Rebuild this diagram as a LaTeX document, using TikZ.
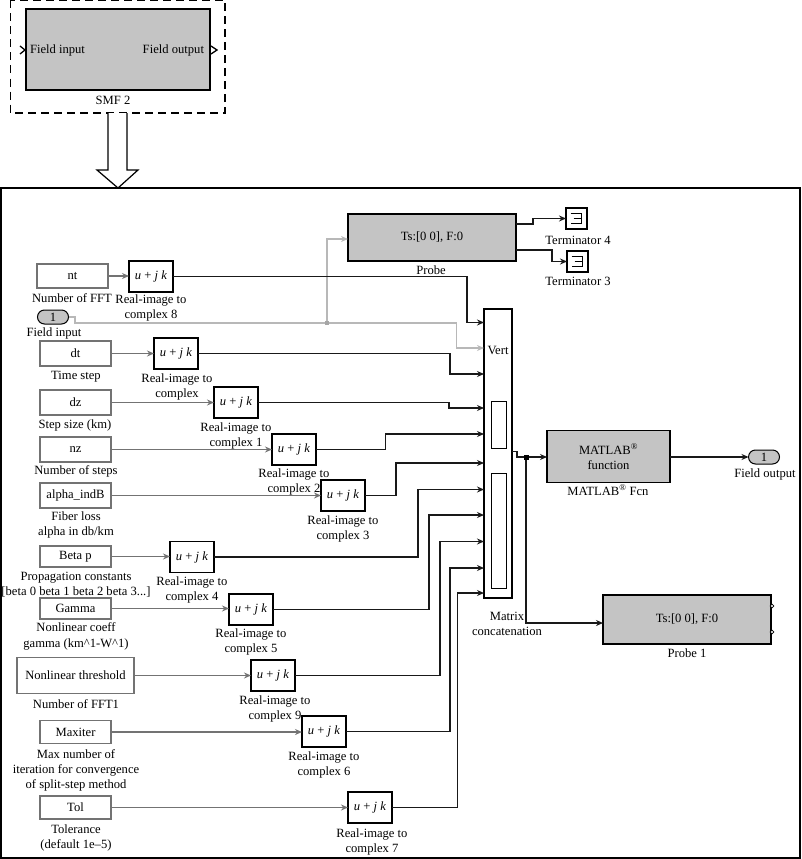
\documentclass[tikz,border=0pt]{standalone}
\usepackage{fontspec}
\setmainfont{Liberation Serif}
\usetikzlibrary{arrows.meta,shapes.misc}
\definecolor{blockgray}{gray}{0.77}
\tikzset{
  every node/.style={font=\fontsize{12.6}{14}\selectfont, inner sep=0pt, outer sep=0pt},
  lbl/.style={align=center, text height=8.5pt, text depth=0pt},
  constbox/.style={draw=black!55, line width=1.3pt, fill=white, minimum width=71pt, minimum height=25pt},
  rib/.style={draw=black, line width=1.3pt, fill=white, minimum width=44pt, minimum height=31pt},
  sysblock/.style={draw=black, line width=1.3pt, fill=blockgray},
  portbox/.style={draw=black, line width=1pt, fill=blockgray, rounded rectangle, minimum width=31pt, minimum height=14pt},
  wire/.style={draw=black!90, line width=1.2pt, -{Stealth[length=7pt,width=6pt]}},
  thin wire/.style={draw=black!55, line width=1.2pt, -{Stealth[length=7pt,width=6pt]}},
  sig wire/.style={draw=black!28, line width=1.2pt, -{Stealth[length=7pt,width=6pt]}},
  termbox/.style={draw=black, line width=1.2pt, fill=white, minimum width=21pt, minimum height=21pt},
}
\newcommand{\ujk}{\textit{u} + \textit{j k}}
\begin{document}
\begin{tikzpicture}[x=1pt,y=-1pt]
\useasboundingbox (0,0) rectangle (801,859);

% upper subsystem and expansion arrow
\draw[line width=1.4pt, dash pattern=on 8pt off 5pt] (10.5,0.5) rectangle (225,113);
\node[sysblock, minimum width=184pt, minimum height=81pt] (smf) at (118,49.5) {};
\node[anchor=west, lbl] (fin) at (30,49.5) {Field input};
\node[anchor=east, lbl] (fout) at (204,49.5) {Field output};
\node[lbl] (smfl) at (113,100) {SMF 2};
\draw[line width=1.3pt] (20,46) -- (25,50) -- (20,54);
\draw[line width=1.3pt] (211,46) -- (217,50) -- (211,54);
\draw[line width=1.2pt, fill=white] (108,113) -- (108,170) -- (97,170) -- (118,188) -- (138,170) -- (127,170) -- (127,113);

% frame of the expanded subsystem
\draw[line width=1.2pt] (1,188) rectangle (800,858);

% constants
\node[constbox, minimum height=24pt] (nt) at (72.5,276) {nt};
\node[constbox] (dt) at (75.5,353.5) {dt};
\node[constbox] (dz) at (75.5,402.5) {dz};
\node[constbox] (nz) at (75.5,449.5) {nz};
\node[constbox] (alpha) at (75.5,495.5) {alpha\_indB};
\node[constbox, minimum height=21pt] (beta) at (75.5,556.5) {Beta p};
\node[constbox, minimum height=21pt] (gamma) at (75.5,608.5) {Gamma};
\node[constbox, minimum width=117pt, minimum height=36pt] (nlt) at (75.5,675.5) {Nonlinear threshold};
\node[constbox, minimum height=23pt] (maxit) at (75.5,732) {Maxiter};
\node[constbox, minimum height=23pt] (tol) at (75.5,807.5) {Tol};

% constant captions
\node[lbl] at (72,298) {Number of FFT};
\node[lbl] at (76,375) {Time step};
\node[lbl] at (75,424) {Step size (km)};
\node[lbl] at (76,470) {Number of steps};
\node[lbl] at (76,516) {Fiber loss};
\node[lbl] at (76,531) {alpha in db/km};
\node[lbl] at (76,576) {Propagation constants};
\node[lbl] at (76,591) {[beta 0 beta 1 beta 2 beta 3...]};
\node[lbl] at (76,627) {Nonlinear coeff};
\node[lbl] at (76,643) {gamma (km\textasciicircum 1-W\textasciicircum 1)};
\node[lbl] at (76,704) {Number of FFT1};
\node[lbl] at (76,754) {Max number of};
\node[lbl] at (76,769) {iteration for convergence};
\node[lbl] at (76,784) {of split-step method};
\node[lbl] at (76,829) {Tolerance};
\node[lbl] at (76,844) {(default 1e–5)};

% real-image to complex blocks
\node[rib] (r8) at (151,276.5) {\ujk};
\node[rib] (r0) at (176,353.5) {\ujk};
\node[rib] (r1) at (236,402.5) {\ujk};
\node[rib] (r2) at (294,449.5) {\ujk};
\node[rib] (r3) at (343,495.5) {\ujk};
\node[rib] (r4) at (192,557) {\ujk};
\node[rib] (r5) at (251,609.5) {\ujk};
\node[rib] (r9) at (273,675.5) {\ujk};
\node[rib] (r6) at (324,731.5) {\ujk};
\node[rib] (r7) at (370,807.5) {\ujk};

\node[lbl] at (151,299) {Real-image to};
\node[lbl] at (151,314) {complex 8};
\node[lbl] at (177,378) {Real-image to};
\node[lbl] at (177,393) {complex};
\node[lbl] at (236,427) {Real-image to};
\node[lbl] at (236,442) {complex 1};
\node[lbl] at (294,473) {Real-image to};
\node[lbl] at (294,488) {complex 2};
\node[lbl] at (343,520) {Real-image to};
\node[lbl] at (343,535) {complex 3};
\node[lbl] at (192,581) {Real-image to};
\node[lbl] at (192,596) {complex 4};
\node[lbl] at (251,633) {Real-image to};
\node[lbl] at (251,648) {complex 5};
\node[lbl] at (275,700) {Real-image to};
\node[lbl] at (275,715) {complex 9};
\node[lbl] at (324,756) {Real-image to};
\node[lbl] at (324,771) {complex 6};
\node[lbl] at (372,833) {Real-image to};
\node[lbl] at (372,848) {complex 7};

% constant to block wires
\foreach \a/\b in {nt/r8,dt/r0,dz/r1,nz/r2,alpha/r3,beta/r4,gamma/r5,nlt/r9,maxit/r6,tol/r7}
  \draw[thin wire] (\a.east) -- (\a.east -| \b.west);

% input port
\node[portbox] (pin) at (53,317) {1};
\node[lbl] at (54,332) {Field input};

% concatenation block
\node[draw=black, line width=1.1pt, fill=white, minimum width=28pt, minimum height=289pt] (mux) at (498,453.5) {};
\node[lbl] (vert) at (498,350) {Vert};
\node[draw=black, line width=1pt, minimum width=15pt, minimum height=47pt] (inA) at (498.5,424.5) {};
\node[draw=black, line width=1pt, minimum width=15pt, minimum height=115pt] (inB) at (498.5,530.5) {};
\node[lbl] at (507,616) {Matrix};
\node[lbl] at (507,631) {concatenation};

% probes and terminators
\node[sysblock, minimum width=168pt, minimum height=47pt] (probe) at (432,237.5) {Ts:[0 0], F:0};
\node[lbl] at (431,270) {Probe};
\node[termbox] (t4) at (576.5,218.5) {};
\node[termbox] (t3) at (577.5,261.5) {};
\foreach \t in {t4,t3}
  \draw[line width=1pt] ([shift={(-6,-5)}]\t.center) -- ([shift={(5,-5)}]\t.center) -- ([shift={(5,5)}]\t.center) -- ([shift={(-6,5)}]\t.center)
    ([shift={(-3,0)}]\t.center) -- ([shift={(5,0)}]\t.center);
\node[lbl] at (578,240) {Terminator 4};
\node[lbl] at (578,281) {Terminator 3};
\coordinate (pa) at (516,224);
\coordinate (pb) at (516,250);
\draw[wire] (pa) -- (533,224) -- (533,218.5) -- (t4.west);
\draw[wire] (pb) -- (552,250) -- (552,261.5) -- (t3.west);

% MATLAB function and outputs
\node[sysblock, minimum width=123pt, minimum height=52pt, align=center] (fcn) at (608.5,456.5) {MATLAB\textsuperscript{®}\\[1pt]function};
\node[lbl] at (608,491) {MATLAB\textsuperscript{®} Fcn};
\node[portbox] (pout) at (764,457) {1};
\node[lbl] at (765,473) {Field output};
\node[sysblock, minimum width=168pt, minimum height=49pt] (probeb) at (687,619.5) {Ts:[0 0], F:0};
\node[lbl] at (687,653) {Probe 1};
\draw[line width=0.7pt, fill=white] (772,606) circle (1.8pt) (772,632) circle (1.8pt);
\draw[wire] (fcn.east |- pout) -- (pout.west);

% field input signal and its branch to the probe
\coordinate (sj) at (327,323);
\coordinate (pinend) at (75,317);
\draw[sig wire] (pin.east) -- (pinend) -- (75,323) -- (456.5,323) -- (456.5,348) -- (484,348);
\draw[sig wire] (sj) -- (327,239) -- (348,239);
\fill[black!35] ([shift={(-2,-2)}]sj) rectangle ([shift={(2,2)}]sj);

% complex signals into the concatenation block
\draw[wire] (r8.east) -- (467,276.5) -- (467,322.5) -- (484,322.5);
\draw[wire] (r0.east) -- (450,353.5) -- (450,374) -- (484,374);
\draw[wire] (r1.east) -- (449,402.5) -- (449,408) -- (484,408);
\draw[wire] (r2.east) -- (385.5,449.5) -- (385.5,434) -- (484,434);
\draw[wire] (r3.east) -- (396,495.5) -- (396,463) -- (484,463);
\draw[wire] (r4.east) -- (418,557) -- (418,489.5) -- (484,489.5);
\draw[wire] (r5.east) -- (429,609.5) -- (429,515) -- (484,515);
\draw[wire] (r9.east) -- (440,675.5) -- (440,541.5) -- (484,541.5);
\draw[wire] (r6.east) -- (450,731.5) -- (450,568) -- (484,568);
\draw[wire] (r7.east) -- (457.5,807.5) -- (457.5,593) -- (484,593);

% concatenated output and branch
\coordinate (mj) at (526,457);
\coordinate (mo) at (512,451.5);
\draw[wire] (mo) -- (517,451.5) -- (517,457) -- (fcn.west |- mj);
\draw[wire] (mj) |- ([yshift=-3.5pt]probeb.west);
\fill[black] ([shift={(-2.5,-2.5)}]mj) rectangle ([shift={(2.5,2.5)}]mj);
\end{tikzpicture}
\end{document}
